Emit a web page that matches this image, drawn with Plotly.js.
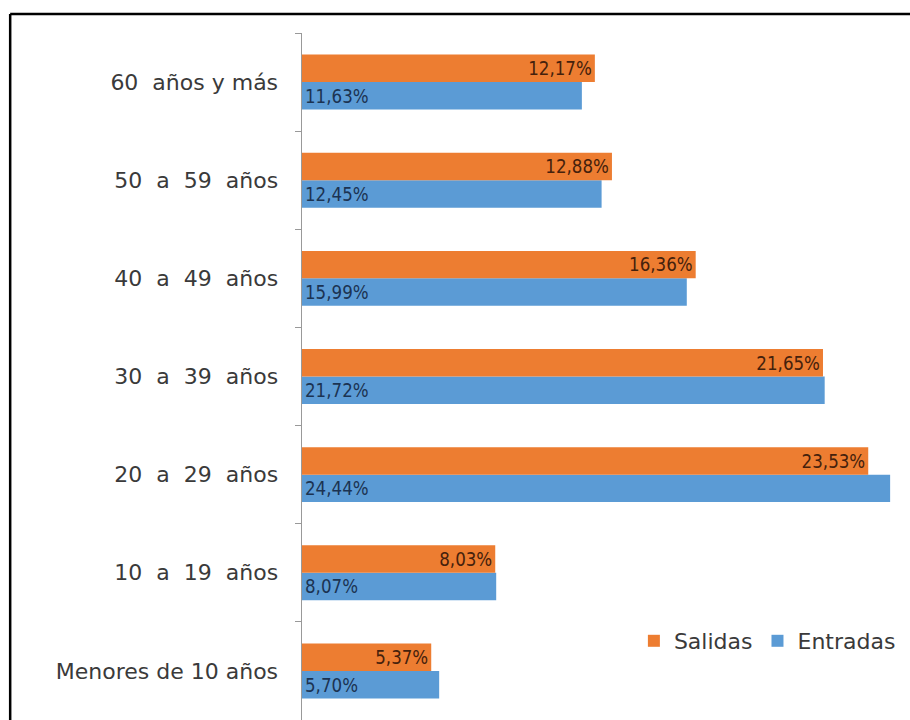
<!DOCTYPE html>
<html>
<head>
<meta charset="utf-8">
<script src="https://cdn.plot.ly/plotly-3.0.1.min.js"></script>
<style>
  html, body { margin: 0; padding: 0; background: #fff; }
  #chart { width: 910px; height: 720px; }
</style>
</head>
<body>
<div id="chart"></div>
<script>
// categories from bottom to top
let groups = ["Menores de 10 años", "10  a  19  años", "20  a  29  años", "30  a  39  años",
	"40  a  49  años", "50  a  59  años", "60  años y más"];
let salidas = [5.37, 8.03, 23.53, 21.65, 16.36, 12.88, 12.17];
let entradas = [5.70, 8.07, 24.44, 21.72, 15.99, 12.45, 11.63];
let salidasText = ["5,37%", "8,03%", "23,53%", "21,65%", "16,36%", "12,88%", "12,17%"];
let entradasText = ["5,70%", "8,07%", "24,44%", "21,72%", "15,99%", "12,45%", "11,63%"];

let labelFont = { family: "DejaVu Sans Condensed, Roboto, sans-serif", size: 19 };

// blue first so that it sits below the orange bar in each group
let data = [
	{
		type: "bar", orientation: "h", name: "Entradas",
		y: groups, x: entradas, text: entradasText,
		marker: { color: "#5B9BD5" },
		textposition: "inside", insidetextanchor: "start",
		textfont: Object.assign({ color: "#1B3352" }, labelFont),
		hoverinfo: "none"
	},
	{
		type: "bar", orientation: "h", name: "Salidas",
		y: groups, x: salidas, text: salidasText,
		marker: { color: "#ED7D31" },
		textposition: "inside", insidetextanchor: "end",
		textfont: Object.assign({ color: "#45210C" }, labelFont),
		hoverinfo: "none"
	}
];

let layout = {
	width: 910,
	height: 720,
	margin: { l: 302, r: 10, t: 33, b: 0 },
	paper_bgcolor: "#fff",
	plot_bgcolor: "#fff",
	barmode: "group",
	bargap: 0.44,
	bargroupgap: 0,
	font: { family: "DejaVu Sans, sans-serif", color: "#3a3a3a" },
	xaxis: {
		range: [0, 24.85],
		visible: false,
		fixedrange: true
	},
	yaxis: {
		type: "category",
		categoryorder: "array",
		categoryarray: groups,
		showline: true,
		linecolor: "#999",
		linewidth: 1.5,
		ticks: "outside",
		tickson: "boundaries",
		ticklen: 6,
		tickcolor: "#999",
		ticklabelstandoff: 18,
		showgrid: false,
		tickfont: { size: 22, color: "#3a3a3a", family: "DejaVu Sans, sans-serif" },
		fixedrange: true
	},
	showlegend: true,
	legend: {
		orientation: "h",
		traceorder: "reversed",
		x: 0.555, y: 0.115,
		xanchor: "left", yanchor: "middle",
		font: { size: 22, color: "#3a3a3a" },
		itemwidth: 30,
		bgcolor: "rgba(0,0,0,0)"
	},
	shapes: [
		{
			type: "line", xref: "paper", yref: "paper",
			x0: -0.488, x1: 1.05, y0: 1.0275, y1: 1.0275,
			line: { color: "#000", width: 2.5 }
		},
		{
			type: "line", xref: "paper", yref: "paper",
			x0: -0.488, x1: -0.488, y0: 1.0275, y1: -0.05,
			line: { color: "#000", width: 2.5 }
		}
	]
};

Plotly.newPlot("chart", data, layout, { displayModeBar: false, staticPlot: true });
</script>
</body>
</html>
